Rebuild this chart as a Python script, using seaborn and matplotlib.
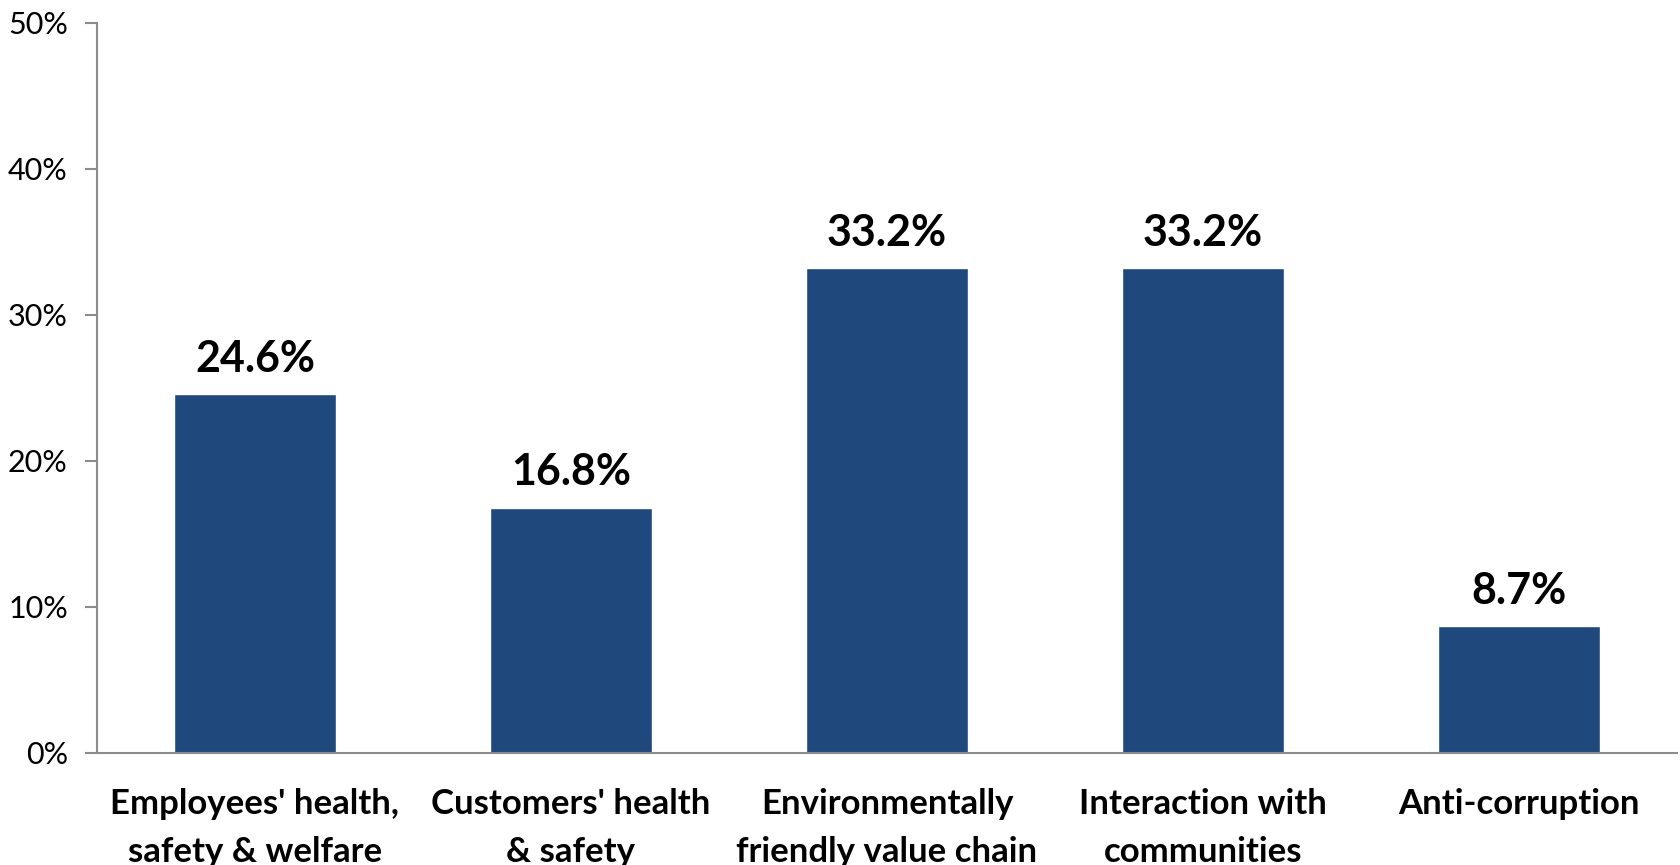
import numpy as np
import pandas as pd
import matplotlib
matplotlib.use("Agg")
import matplotlib.pyplot as plt
import seaborn as sns

categories = [
    "Employees' health,\nsafety & welfare",
    "Customers' health\n& safety",
    "Environmentally\nfriendly value chain",
    "Interaction with\ncommunities",
    "Anti-corruption",
]
values = [24.6, 16.8, 33.2, 33.2, 8.7]
y_ticks = [0, 10, 20, 30, 40, 50]

sns.set_theme(style="white")
plt.rcParams["font.family"] = ["Lato", "DejaVu Sans"]
plt.rcParams["hatch.color"] = "#efefef"
plt.rcParams["hatch.linewidth"] = 3.0

W, H = 1680, 865
fig = plt.figure(figsize=(W / 100, H / 100), dpi=100)
fig.patch.set_facecolor("white")
fig.patch.set_hatch("//")

ax = fig.add_axes([97 / W, (H - 753) / H, (1677 - 97) / W, (753 - 23) / H])
ax.set_facecolor("none")

df = pd.DataFrame({"category": categories, "value": values})
sns.barplot(data=df, x="category", y="value", color="#1f497d",
            saturation=1, width=0.51, ax=ax)

for c in ax.containers:
    ax.bar_label(c, labels=[f"{v:.1f}%" for v in values], padding=11,
                 fontsize=31, fontweight="bold", color="black")

ax.set_xlim(-0.5, len(categories) - 0.5)
ax.set_ylim(0, 50)
ax.set_yticks(y_ticks)
ax.set_yticklabels([f"{t}%" for t in y_ticks], fontsize=22, color="black")
ax.set_xticks(range(len(categories)))
ax.set_xticklabels(categories, fontsize=25, fontweight="bold", color="black",
                   linespacing=1.62)
ax.set_xticks(np.arange(-0.5, len(categories), 1), minor=True)
ax.tick_params(axis="x", which="major", length=0, pad=25)
ax.tick_params(axis="x", which="minor", length=9, width=1.5, color="#8c8c8c",
               direction="out")
ax.tick_params(axis="y", length=9, width=1.5, color="#8c8c8c",
               direction="out", pad=12, left=True)

for side in ["top", "right"]:
    ax.spines[side].set_visible(False)
for side in ["left", "bottom"]:
    ax.spines[side].set_color("#8c8c8c")
    ax.spines[side].set_linewidth(1.5)

ax.set_xlabel("")
ax.set_ylabel("")
ax.grid(False)

fig.savefig("out.png", dpi=100, facecolor=fig.get_facecolor())
